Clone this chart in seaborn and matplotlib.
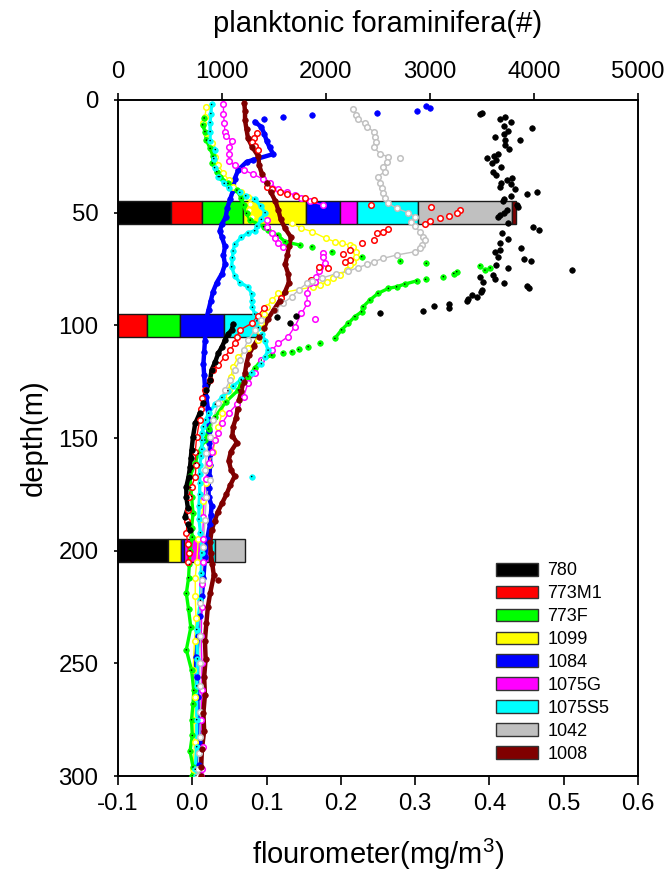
import numpy as np
import matplotlib
matplotlib.use("Agg")
import matplotlib.pyplot as plt
import seaborn as sns
from matplotlib.patches import Patch

nan = np.nan

# ---------------- categories ----------------
stations = ["780", "773M1", "773F", "1099", "1084", "1075G", "1075S5", "1042", "1008"]
colors = ["#000000", "#FF0000", "#00FF00", "#FFFF00", "#0000FF", "#FF00FF", "#00FFFF", "#C0C0C0", "#800000"]

# ---------------- planktonic foraminifera counts (#) ----------------
bar_depths = [50, 100, 200]
counts_50m = [506, 299, 394, 606, 330, 160, 587, 909, 32]
counts_100m = [0, 282, 311, 0, 423, 0, 317, 0, 0]
counts_200m = [477, 0, 0, 126, 28, 247, 52, 295, 0]

# ---------------- fluorometer profiles (mg/m3) ----------------
# 780
st780_depth = [99.5, 102.1, 104, 106.5, 109.5, 112.4, 116.1, 119.8, 124.3, 128.7, 134.6, 139, 143.5, 149.4,
               155.4, 159, 162.8, 167.2, 171.6, 176, 181, 185, 188, 190.8]
st780_flu = [0.055, 0.053, 0.048, 0.044, 0.040, 0.035, 0.031, 0.026, 0.024, 0.019, 0.015, 0.010, 0.004, 0.001,
             -0.001, -0.002, -0.003, -0.005, -0.008, -0.008, -0.006, -0.010, -0.006, -0.003]
st780_dots_depth = [5.9, 6.4, 7.7, 8.6, 9.6, 11.5, 12.6, 13.6, 15.1, 16.6, 17.8, 17.8, 20.0, 21.9, 24.0, 24.7,
                    25.6, 26.6, 28.1, 29.6, 31.8, 33.3, 34.5, 35.5, 36.7, 37.4, 38.5, 39.7, 40.7, 41.7, 42.5,
                    44.1, 44.8, 46.6, 47.4, 48.8, 50.0, 51.0, 52.0, 54.4, 56.5, 57.7, 59.2, 61.8, 63.6, 65.5,
                    66.6, 67.3, 69.5, 70.7, 71.5, 73.2, 74.4, 75.5, 77.7, 78.4, 79.6, 80.6, 81.4, 82.6, 83.6,
                    84.3, 85.2, 86.6, 87.3, 88.5, 89.3, 90.5, 91.4, 92.5, 93.5, 94.7, 95.9, 96.5, 98.8]
st780_dots_flu = [0.390, 0.387, 0.421, 0.414, 0.429, 0.419, 0.457, 0.425, 0.419, 0.407, 0.421, 0.441, 0.421,
                  0.427, 0.412, 0.406, 0.397, 0.409, 0.403, 0.416, 0.405, 0.409, 0.431, 0.423, 0.416, 0.429,
                  0.414, 0.434, 0.464, 0.451, 0.429, 0.419, 0.418, 0.437, 0.438, 0.423, 0.419, 0.414, 0.412,
                  0.425, 0.458, 0.467, 0.417, 0.425, 0.414, 0.443, 0.414, 0.407, 0.411, 0.446, 0.456, 0.409,
                  0.425, 0.511, 0.405, 0.387, 0.407, 0.392, 0.420, 0.450, 0.453, 0.390, 0.388, 0.376, 0.383,
                  0.371, 0.370, 0.346, 0.326, 0.345, 0.311, 0.253, 0.139, 0.114, 0.131]

# 773M1
st773M1_depth = [92.5, 96, 99.1, 102.1, 105, 108, 111, 113.9, 117.6, 119.8, 124.3, 128.7, 132.4, 137, 142,
                 149.4, 156, 162, 167.1, 171.6, 176, 182, 187, 192.3, 197, 201, 205]
st773M1_flu = [0.096, 0.088, 0.080, 0.064, 0.060, 0.057, 0.051, 0.044, 0.035, 0.028, 0.024, 0.017, 0.013,
               0.012, 0.010, 0.006, 0.004, 0.005, 0.004, -0.001, -0.005, -0.006, -0.007, -0.008, -0.006,
               -0.005, -0.006]
st773M1_dots_depth = [14.8, 17.0, 18.5, 20.5, 22.2, 38.5, 39.7, 41.0, 41.8, 42.5, 43.4, 44.4, 46.6, 47.6, 48.8,
                      50.0, 51.5, 52.5, 53.7, 55.2, 57.4, 58.4, 59.2, 62.1, 63.6, 66.6, 68.4, 71.0, 72.0,
                      74.2, 74.7, 80.0, 88.0]
st773M1_dots_flu = [0.087, 0.083, 0.080, 0.085, 0.089, 0.100, 0.107, 0.118, 0.127, 0.140, 0.152, 0.164, 0.241,
                    0.322, 0.360, 0.356, 0.345, 0.333, 0.320, 0.313, 0.264, 0.257, 0.248, 0.244, 0.228, 0.212,
                    0.203, 0.212, 0.205, 0.170, 0.183, 0.160, 0.120]

# 773F
st773F_depth = [8, 11, 14, 17.8, 21.5, 25, 28, 31.8, 34, 37, 40, 43.6, 46.6, 50.3, 53.3, 56.2, 57.7, 60,
                62.9, 64.4, nan,
                80.3, 81.7, 82.9, 83.6, 85.8, 88.8, 91.7, 94, 96.1, 99.1, 102, 105.8, nan,
                113.2, 115.4, 119.1, 122.8, 124.3, 128.7, 134, 140.6, 146, 150.9, 156.8, 161.3, 167, 172,
                176, 183.5, 190, 194, 200, 206, 212, 219, 226, 234, 244, 253, 262, 268, 275, 282, 289, 296, 300]
st773F_flu = [0.016, 0.014, 0.017, 0.019, 0.024, 0.028, 0.027, 0.033, 0.037, 0.048, 0.060, 0.066, 0.069,
              0.073, 0.078, 0.096, 0.102, 0.115, 0.125, 0.145, nan,
              0.302, 0.286, 0.275, 0.264, 0.250, 0.239, 0.230, 0.228, 0.219, 0.210, 0.201, 0.192, nan,
              0.107, 0.093, 0.084, 0.075, 0.066, 0.062, 0.045, 0.031, 0.022, 0.017, 0.008, 0.004, -0.003,
              -0.002, -0.001, 0.001, -0.001, 0.000, -0.003, -0.004, -0.005, -0.008, -0.005, -0.002, -0.008,
              -0.001, 0.002, 0.001, -0.001, 0.000, -0.003, 0.001, 0.000]
st773F_dots_depth = [65.1, 67.3, 69.5, 71.5, 72.5, 73.5, 74.5, 75.5, 76.2, 77.0, 78.4, 79.6,
                     108, 109.5, 110.7, 111.7, 112.1]
st773F_dots_flu = [0.161, 0.188, 0.228, 0.280, 0.315, 0.387, 0.401, 0.394, 0.356, 0.352, 0.338, 0.314,
                   0.172, 0.156, 0.143, 0.134, 0.122]

# 1099
st1099_depth = [3, 7.4, 10.4, 14.8, 19.2, 25.2, 28.9, 32.5, 35.5, 38.5, 40.7, 42.9, 46, 49, 51.8,
                54.7, 56.9, 58.4, 61.4, 62.9, 63.6, 64.4, 65.1, 67.3, 69.5, 71.8, 73.2, 75.5, 77.7, 79.2,
                80.6, 82.1, 82.9, 85.8, 88.8, 92, 95, 99.1, 103, 106.5, 110, 113.9, 118.4, 122.8, 128.7,
                133.2, 139, 145, 150.9, 156, 162, 170, 178, 186, 195, 205, 212, 220, 230, 240, 253, 265,
                275, 285, 297, 300]
st1099_flu = [0.019, 0.017, 0.015, 0.019, 0.026, 0.031, 0.035, 0.042, 0.049, 0.055, 0.066, 0.075, 0.078,
              0.077, 0.080, 0.134, 0.147, 0.161, 0.180, 0.192, 0.201, 0.212, 0.217, 0.221, 0.221, 0.217,
              0.212, 0.208, 0.199, 0.190, 0.181, 0.172, 0.163, 0.116, 0.107, 0.100, 0.096, 0.093, 0.091,
              0.089, 0.075, 0.062, 0.055, 0.052, 0.049, 0.044, 0.040, 0.035, 0.031, 0.028, 0.022, 0.018,
              0.015, 0.012, 0.008, 0.006, 0.004, 0.004, 0.005, 0.003, 0.001, 0.003, 0.002, 0.003, 0.001,
              0.002]

# 1084
st1084_depth = [9.6, 12, 15, 18, 21, 24, 26.6, 27.5, 31, 35, 40, 44, 48, 52, 55, 58, 61, 65, 69, 73, 77,
                81, 85, 89, 93, 97, 102, 107, 112, 117, 122, 127, 132, 137, 142, 147, 152, 157, 162, 167,
                172, 176, 180, 184, 188, 195, 203, 212, 220, 229, 238, 247, 256, 265, 275, 285, 295, 300]
st1084_flu = [0.084, 0.093, 0.097, 0.100, 0.104, 0.109, 0.082, 0.073, 0.062, 0.057, 0.055, 0.051, 0.047,
              0.045, 0.040, 0.037, 0.040, 0.044, 0.042, 0.044, 0.040, 0.033, 0.028, 0.025, 0.022, 0.019,
              0.018, 0.017, 0.016, 0.015, 0.016, 0.017, 0.019, 0.021, 0.022, 0.022, 0.023, 0.024, 0.024,
              0.023, 0.022, 0.022, 0.026, 0.025, 0.024, 0.020, 0.017, 0.015, 0.013, 0.010, 0.008, 0.005,
              0.006, 0.008, 0.008, 0.009, 0.009, 0.009]
st1084_dots_depth = [2.6, 3.6, 4.7, 5.6, 6.7, 7.7, 8.6]
st1084_dots_flu = [0.315, 0.320, 0.303, 0.248, 0.161, 0.122, 0.096]

# 1075G
st1075G_depth = [2, 6, 10, 14, 16, 18, 21, 24, 27, 29, 31, 33, 35, 37, 39.7, 41, 42.2, 43.6, 45, 46.6, nan,
                 53.3, 56.2, 59.2, 61.4, 63.6, 65.1, nan,
                 68, 69.5, 72.5, 74, 76, 78.4, 80.6, 81.4, 85.8, 90.3, 94.7, 100.6, 105, 108, 111, 115.4,
                 121.3, 125.7, 131.7, 135, 139, 143.5, 148, 150.9, 156, 161.3, 168, 176, 185, 195, 205,
                 215, 225, 238, 250, 262, 275, 287, 297, 300]
st1075G_flu = [0.042, 0.042, 0.043, 0.044, 0.046, 0.053, 0.049, 0.049, 0.050, 0.057, 0.069, 0.082, 0.095,
               0.105, 0.116, 0.127, 0.138, 0.147, 0.158, 0.176, nan,
               0.100, 0.100, 0.107, 0.111, 0.116, 0.122, nan,
               0.176, 0.176, 0.178, 0.172, 0.170, 0.167, 0.165, 0.158, 0.154, 0.155, 0.147, 0.138, 0.129,
               0.116, 0.107, 0.093, 0.084, 0.075, 0.069, 0.060, 0.049, 0.040, 0.035, 0.031, 0.026, 0.022,
               0.018, 0.016, 0.015, 0.014, 0.014, 0.013, 0.013, 0.012, 0.013, 0.013, 0.012, 0.014, 0.013,
               0.012]
st1075G_dots_depth = [97.4]
st1075G_dots_flu = [0.165]

# 1075S5
st1075S5_depth = [2, 6, 10, 14, 18, 22, 26, 30, 34, 37, 39, 41, 42.5, 44, 47, 50, 53, 56, 58, 59, 61, 64,
                  67, 70, 74, 78, 81, 83, 86, 89, 92, 95, 98, 101, 104, 107, 111, 114, 117, 121, 124, 127,
                  129, 132, 135, 139, 142, 145, 148, 151, 155, 158, 162, 166, 170, 175, 180, 186, 192, 201,
                  210, 222, 235, 248, 260, 275, 287, 297, 300]
st1075S5_flu = [0.026, 0.025, 0.024, 0.024, 0.024, 0.031, 0.029, 0.030, 0.035, 0.043, 0.049, 0.064, 0.072,
                0.084, 0.092, 0.098, 0.093, 0.087, 0.084, 0.075, 0.066, 0.057, 0.055, 0.054, 0.053, 0.057,
                0.064, 0.075, 0.080, 0.080, 0.081, 0.084, 0.087, 0.089, 0.094, 0.098, 0.102, 0.098, 0.093,
                0.080, 0.066, 0.055, 0.048, 0.040, 0.031, 0.022, 0.018, 0.015, 0.013, 0.013, 0.013, 0.012,
                0.010, 0.010, 0.010, 0.010, 0.009, 0.009, 0.011, 0.013, 0.012, 0.011, 0.006, 0.007, 0.006,
                0.006, 0.006, 0.004, 0.005]
st1075S5_dots_depth = [167.1]
st1075S5_dots_flu = [0.080]

# 1042
st1042_depth = [4.1, 6.6, 8.5, 10.4, 11.8, 14, 16.3, 18.5, 20.7, 24, 25.2, 27.4, 29.6, 31.8, 34, 37, 39,
                41.4, 43.6, 45.9, 48, 50, 51.8, 54, 56, 58.4, 60.7, 62.1, 64.4, 65.8, 67.3, 68.8, 70.3,
                71.8, 73, 74.4, 76, 77, 79, 80.2, 81.4, 84.3, 87.3, 90.2, 93.2, 97.6, 102.1, 106.5, 111,
                115.4, 119.8, 124.3, 128.7, 134.6, 142, 149.4, 156.8, 164.2, 168.7, 176, 186.4, 198.3, 213,
                223.4, 238, 250, 260, 271.7, 282.5, 290, 297, 300]
st1042_flu = [0.217, 0.221, 0.223, 0.232, 0.235, 0.244, 0.246, 0.247, 0.244, 0.253, 0.264, 0.262, 0.257,
              0.259, 0.250, 0.253, 0.255, 0.257, 0.259, 0.264, 0.275, 0.290, 0.300, 0.295, 0.300, 0.306,
              0.310, 0.313, 0.309, 0.306, 0.300, 0.275, 0.257, 0.244, 0.235, 0.223, 0.210, 0.194, 0.175,
              0.161, 0.154, 0.143, 0.134, 0.122, 0.111, 0.093, 0.084, 0.075, 0.069, 0.064, 0.057, 0.051,
              0.044, 0.035, 0.028, 0.024, 0.019, 0.017, 0.024, 0.019, 0.017, 0.015, 0.013, 0.010, 0.011,
              0.010, 0.010, 0.011, 0.010, 0.009, 0.008, 0.008]
st1042_dots_depth = [25.6]
st1042_dots_flu = [0.279]

# 1008
st1008_depth = [1.5, 5, 9, 13, 17, 21, 25, 29, 33, 37, 41, 45, 49, 53, 57, 61, 65, 69, 73, 77, 81, 85, 89,
                93, 97, 101, 105, 109, 113, 117, 121, 125, 129, 133, 137, 141, 145, 149, 152, 156, 160, 164,
                167, 171, 175, 179, 183, 187, 191, 196, 201, 206, 211, 219, 225, 232, 240, 248, 256, 264,
                272, 280, 288, 296, 300]
st1008_flu = [0.070, 0.071, 0.071, 0.073, 0.075, 0.081, 0.089, 0.090, 0.094, 0.100, 0.106, 0.112, 0.116,
              0.119, 0.125, 0.133, 0.130, 0.128, 0.125, 0.129, 0.130, 0.125, 0.118, 0.110, 0.102, 0.097,
              0.090, 0.083, 0.076, 0.073, 0.071, 0.069, 0.066, 0.063, 0.061, 0.059, 0.055, 0.054, 0.060,
              0.052, 0.049, 0.052, 0.057, 0.051, 0.046, 0.040, 0.034, 0.030, 0.026, 0.024, 0.025, 0.027,
              0.029, 0.024, 0.021, 0.019, 0.017, 0.018, 0.016, 0.017, 0.015, 0.016, 0.013, 0.012, 0.012]
st1008_dots_depth = [213]
st1008_dots_flu = [0.035]

xtick_labels = ["-0.1", "0.0", "0.1", "0.2", "0.3", "0.4", "0.5", "0.6"]

# ---------------- figure ----------------
sns.set_style("ticks")
plt.rcParams["font.family"] = ["Liberation Sans", "DejaVu Sans"]
plt.rcParams["mathtext.fontset"] = "custom"
plt.rcParams["mathtext.rm"] = "Liberation Sans"
plt.rcParams["mathtext.it"] = "Liberation Sans"
plt.rcParams["mathtext.default"] = "regular"
plt.rcParams["axes.unicode_minus"] = False
plt.rcParams["text.color"] = "black"
plt.rcParams["axes.labelcolor"] = "black"
plt.rcParams["xtick.color"] = "black"
plt.rcParams["ytick.color"] = "black"

fig = plt.figure(figsize=(6.67, 8.88), dpi=100)
ax = fig.add_axes([0.1769, 0.1261, 0.7796, 0.7613])
axt = ax.twiny()
ax.set_zorder(axt.get_zorder() + 1)
ax.patch.set_visible(False)

# stacked bars (top axis, foraminifera counts)
for dep, cnts in zip(bar_depths, [counts_50m, counts_100m, counts_200m]):
    left = 0
    for c, col in zip(cnts, colors):
        if c > 0:
            axt.barh(dep, c, left=left, height=10, color=col, edgecolor="#1a1a1a", linewidth=1.0)
            left += c

profiles = {
    "780": (st780_depth, st780_flu, st780_dots_depth, st780_dots_flu, "filled"),
    "773M1": (st773M1_depth, st773M1_flu, st773M1_dots_depth, st773M1_dots_flu, "hollow"),
    "773F": (st773F_depth, st773F_flu, st773F_dots_depth, st773F_dots_flu, "dotted"),
    "1099": (st1099_depth, st1099_flu, [], [], "hollow"),
    "1084": (st1084_depth, st1084_flu, st1084_dots_depth, st1084_dots_flu, "filled"),
    "1075G": (st1075G_depth, st1075G_flu, st1075G_dots_depth, st1075G_dots_flu, "hollow"),
    "1075S5": (st1075S5_depth, st1075S5_flu, st1075S5_dots_depth, st1075S5_dots_flu, "dotted"),
    "1042": (st1042_depth, st1042_flu, st1042_dots_depth, st1042_dots_flu, "hollow"),
    "1008": (st1008_depth, st1008_flu, st1008_dots_depth, st1008_dots_flu, "filled"),
}
col_of = dict(zip(stations, colors))
draw_order = ["1084", "1099", "773F", "1075G", "1075S5", "773M1", "1042", "1008", "780"]


def segments(d, f):
    d = np.asarray(d, float)
    f = np.asarray(f, float)
    out, cur = [], []
    for a, b in zip(d, f):
        if np.isnan(a):
            if cur:
                out.append(cur)
            cur = []
        else:
            cur.append((a, b))
    if cur:
        out.append(cur)
    return out


for st in draw_order:
    d, f, dd, df, style = profiles[st]
    col = col_of[st]
    lw = 3.2 if style == "filled" else (2.4 if style == "dotted" else 1.0)
    for seg in segments(d, f):
        sd = [p[0] for p in seg]
        sf = [p[1] for p in seg]
        if len(seg) > 1:
            sns.lineplot(x=sf, y=sd, sort=False, estimator=None, color=col, lw=lw, ax=ax, legend=False)
    all_d = [v for v in d if not np.isnan(v)] + list(dd)
    all_f = [v for v in f if not np.isnan(v)] + list(df)
    if style == "hollow":
        sns.scatterplot(x=all_f, y=all_d, ax=ax, s=16, color="white", edgecolor=col, linewidth=1.1,
                        legend=False, zorder=3)
    else:
        sns.scatterplot(x=all_f, y=all_d, ax=ax, s=16, color=col, edgecolor=col, linewidth=0.5,
                        legend=False, zorder=3)
        if style == "dotted":
            sns.scatterplot(x=all_f, y=all_d, ax=ax, s=1.2, color="black", edgecolor="none",
                            legend=False, zorder=4)

# axes
ax.set_xlim(-0.1, 0.6)
ax.set_xticks(np.arange(-0.1, 0.601, 0.1))
ax.set_xticklabels(xtick_labels)
ax.set_ylim(300, 0)
ax.set_yticks(np.arange(0, 301, 50))
axt.set_xlim(0, 5000)
axt.set_xticks(np.arange(0, 5001, 1000))

for a in (ax, axt):
    for sp in a.spines.values():
        sp.set_visible(True)
        sp.set_color("black")
        sp.set_linewidth(1.2)

ax.tick_params(axis="x", direction="out", length=6.5, width=1.2, labelsize=17.3, pad=6,
               colors="black", labelcolor="black")
ax.tick_params(axis="y", direction="out", length=3, width=1.2, labelsize=17.3, pad=11,
               colors="black", labelcolor="black")
axt.tick_params(axis="x", direction="out", length=5, width=1.2, labelsize=17.3, pad=7,
                colors="black", labelcolor="black")

ax.set_xlabel("flourometer(mg/m$^3$)", fontsize=21, color="black")
ax.xaxis.set_label_coords(0.5, -0.09)
axt.set_xlabel("planktonic foraminifera(#)", fontsize=21, color="black")
axt.xaxis.set_label_coords(0.5, 1.1)
ax.set_ylabel("depth(m)", fontsize=21, color="black")
ax.yaxis.set_label_coords(-0.135, 0.5)

handles = [Patch(facecolor=c, edgecolor="#333333", linewidth=1.0) for c in colors]
leg = ax.legend(handles, stations, loc="upper left", bbox_to_anchor=(0.727, 0.316), frameon=False,
                fontsize=13, handlelength=2.3, handleheight=0.72, handletextpad=0.55, labelspacing=0.33,
                borderpad=0, borderaxespad=0)
for t in leg.get_texts():
    t.set_color("black")

fig.savefig("out.png", dpi=100)
